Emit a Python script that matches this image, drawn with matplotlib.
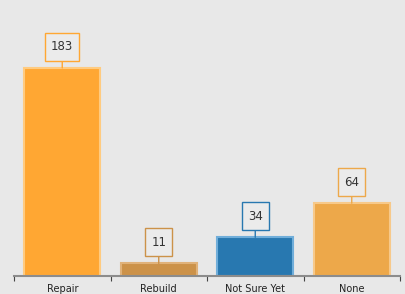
import matplotlib
matplotlib.use("Agg")
import matplotlib.pyplot as plt
from matplotlib.path import Path
import numpy as np

categories = ["Repair", "Rebuild", "Not Sure Yet", "None"]
values = [183, 11, 34, 64]
colors = ["#FFA733", "#CC9249", "#2878B0", "#EDA84A"]
edge_colors = ["#FFCB80", "#E0B27A", "#70AEDA", "#F7C98A"]

bg = "#E8E8E8"
DPI = 100
fig = plt.figure(figsize=(4.05, 2.94), dpi=DPI, facecolor=bg)
ax = fig.add_axes([14/405, 1-276/294, 386/405, 276/294])
ax.set_facecolor(bg)


def label_box(x0, y0, width, height, mutation_size):
    cx = x0 + width / 2
    cy = y0 + height / 2
    hw = width / 2 + 6 * DPI / 100
    hh = 14 * DPI / 100
    verts = [(cx - hw, cy - hh), (cx + hw, cy - hh), (cx + hw, cy + hh),
             (cx - hw, cy + hh), (cx - hw, cy - hh)]
    return Path(verts, closed=True)


x = np.arange(len(categories))
ax.bar(x, values, width=0.79, color=colors, edgecolor=edge_colors, linewidth=1.5)
ax.set_xlim(-0.5, len(categories)-0.5)
ax.set_ylim(0, 276/1.137)

for xi, v, c in zip(x, values, colors):
    ax.annotate(str(v), xy=(xi, v), xytext=(0, 21), textcoords="offset pixels",
                ha="center", va="center", fontsize=8.5, color="#333333",
                bbox=dict(boxstyle=label_box, fc="#EBEBEB", ec=c, lw=1),
                arrowprops=dict(arrowstyle="-", color=c, lw=1, shrinkA=0, shrinkB=0))

for s in ["top", "right", "left"]:
    ax.spines[s].set_visible(False)
ax.spines["bottom"].set_color("#8C8C8C")
ax.spines["bottom"].set_linewidth(1.5)
ax.set_yticks([])
ax.set_xticks(x)
ax.set_xticklabels(categories, fontsize=7, color="#222222")
ax.tick_params(axis="x", which="major", length=0, pad=6)
ax.set_xticks(np.arange(-0.5, len(categories)), minor=True)
ax.tick_params(axis="x", which="minor", length=3.5, width=0.8, color="#444444", direction="out")

fig.savefig("out.png", dpi=DPI, facecolor=bg)
